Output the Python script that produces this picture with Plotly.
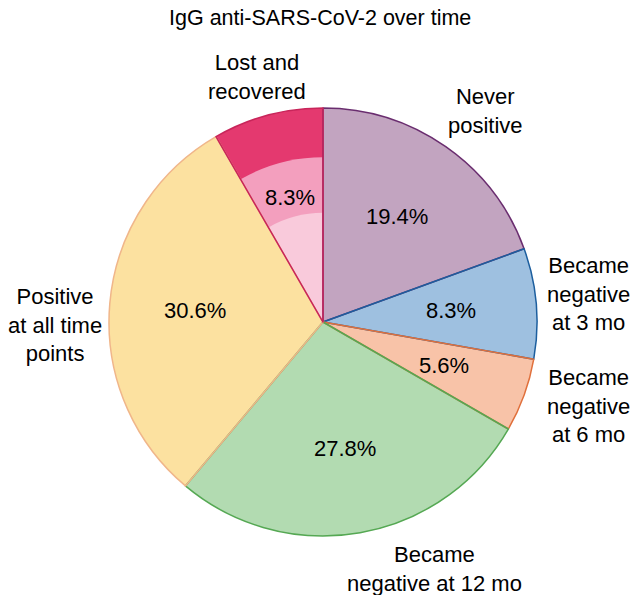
import math
import plotly.graph_objects as go

categories = ["Never positive", "Became negative at 3 mo", "Became negative at 6 mo",
              "Became negative at 12 mo", "Positive at all time points", "Lost and recovered"]
counts = [7, 3, 2, 10, 11, 3]
label_text = ["Never<br>positive", "Became<br>negative<br>at 3 mo", "Became<br>negative<br>at 6 mo",
              "Became<br>negative at 12 mo", "Positive<br>at all time<br>points", "Lost and<br>recovered"]

fills = ["#c2a4c0", "#9ec0e0", "#f8c3a8", "#b2dbb1", "#fce1a0", "#e4396f"]
borders = ["#6a2d6f", "#1c5e9e", "#e0703c", "#55a853", "#f0b68a", "#c8255a"]
ring_colors = ["#f39fbe", "#f9cadb"]   # middle and inner shades of "Lost and recovered"
ring_fracs = [0.77, 0.51]

W, H = 630, 595
cx, cy, R = 323, 322, 214
FONT = "Liberation Sans, Arial, sans-serif"

def domain(r):
    return dict(x=[(cx - r) / W, (cx + r) / W], y=[(H - cy - r) / H, (H - cy + r) / H])

fig = go.Figure()
fig.add_trace(go.Pie(values=counts, labels=categories, sort=False, direction="clockwise",
                     marker=dict(colors=fills, line=dict(width=0)), textinfo="none",
                     domain=domain(R), showlegend=False, hoverinfo="skip"))
for col, fr in zip(ring_colors, ring_fracs):
    cols = ["rgba(0,0,0,0)"] * (len(counts) - 1) + [col]
    fig.add_trace(go.Pie(values=counts, labels=categories, sort=False, direction="clockwise",
                         marker=dict(colors=cols, line=dict(width=0)), textinfo="none",
                         domain=domain(R * fr), showlegend=False, hoverinfo="skip"))
fig.add_trace(go.Pie(values=counts, labels=categories, sort=False, direction="clockwise",
                     marker=dict(colors=["rgba(0,0,0,0)"] * len(counts),
                                 line=dict(color=borders, width=1.5)),
                     textinfo="none", hovertemplate="%{label}: %{percent:.1%}<extra></extra>",
                     domain=domain(R), showlegend=False))

# percentage labels at the middle angle of each slice, 0.6 of the radius
total = sum(counts)
cum = 0
for c in counts:
    mid = (cum + c / 2) / total * 2 * math.pi
    cum += c
    px = cx + 0.6 * R * math.sin(mid)
    py = cy - 0.6 * R * math.cos(mid)
    fig.add_annotation(x=px / W, y=1 - py / H, xref="paper", yref="paper",
                       text=f"{100 * c / total:.1f}%", showarrow=False,
                       xanchor="center", yanchor="middle",
                       font=dict(family=FONT, size=22, color="black"))

label_pos = [(485, 111), (588, 294), (588, 406), (434, 569), (55, 325), (257, 77)]
for txt, (x, y) in zip(label_text, label_pos):
    fig.add_annotation(x=x / W, y=1 - y / H, xref="paper", yref="paper", text=txt,
                       showarrow=False, xanchor="center", yanchor="middle",
                       font=dict(family=FONT, size=22, color="black"))

fig.add_annotation(x=320 / W, y=1 - 18 / H, xref="paper", yref="paper",
                   text="IgG anti-SARS-CoV-2 over time", showarrow=False,
                   xanchor="center", yanchor="middle",
                   font=dict(family=FONT, size=21.5, color="black"))

fig.update_layout(width=W, height=H, margin=dict(l=0, r=0, t=0, b=0),
                  paper_bgcolor="white", plot_bgcolor="white")
fig.write_html("out.html", config={"displayModeBar": False},
               post_script="document.body.style.margin='0';")
